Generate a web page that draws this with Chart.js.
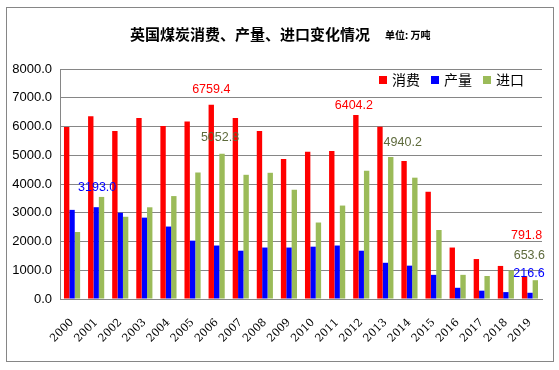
<!DOCTYPE html>
<html>
<head>
<meta charset="utf-8">
<script src="https://cdn.jsdelivr.net/npm/chart.js@4/dist/chart.umd.min.js"></script>
<style>
  html, body { margin: 0; padding: 0; background: #fff; }
  #wrap { width: 559px; height: 370px; position: relative; }
</style>
</head>
<body>
<div id="wrap"><canvas id="coalChart" width="559" height="370"></canvas></div>
<script>
const Years = ['2000','2001','2002','2003','2004','2005','2006','2007','2008','2009',
               '2010','2011','2012','2013','2014','2015','2016','2017','2018','2019'];
const Consumption = [5980, 6360, 5840, 6300, 6020, 6170, 6759.4, 6300, 5840, 4870,
                     5120, 5150, 6404.2, 5990, 4800, 3730, 1790, 1390, 1150, 791.8];
const Production = [3100, 3193.0, 3000, 2830, 2520, 2030, 1860, 1680, 1790, 1790,
                    1820, 1860, 1680, 1260, 1160, 840, 390, 290, 240, 216.6];
const Imports = [2330, 3550, 2860, 3190, 3580, 4400, 5052.8, 4320, 4390, 3800,
                 2660, 3250, 4460, 4940.2, 4220, 2400, 840, 800, 990, 653.6];
const SeriesNames = ['消费', '产量', '进口'];
const YTicks = [0, 1000, 2000, 3000, 4000, 5000, 6000, 7000, 8000];

// etiquetas de valor: dataset, indice de año
const Labels = [[0, 6], [2, 6], [1, 1], [0, 12], [2, 13], [0, 19], [2, 19], [1, 19]];
const LabelOffsets = [[0, -15], [-2, -16], [1, -20], [-2, -9], [12, -14], [2, -41], [-6, -25], [-1, -19]];
const LabelColors = ['#ff0000', '#0000ff', '#5e6a3c'];

const decorPlugin = {
  id: 'decor',
  beforeDraw(chart) {
    const ctx = chart.ctx;
    ctx.save();
    ctx.fillStyle = '#fff';
    ctx.fillRect(0, 0, chart.width, chart.height);
    ctx.strokeStyle = '#868686';
    ctx.lineWidth = 1;
    ctx.strokeRect(6.5, 7.5, 547, 354);
    ctx.restore();
  },
  afterDraw(chart) {
    const ctx = chart.ctx;
    ctx.save();
    // titulo
    ctx.fillStyle = '#000';
    ctx.textBaseline = 'middle';
    ctx.textAlign = 'center';
    ctx.font = 'bold 15px "Noto Sans CJK SC"';
    ctx.fillText('英国煤炭消费、产量、进口变化情况', 250, 34);
    ctx.textAlign = 'left';
    ctx.font = 'bold 10px "Noto Sans CJK SC"';
    ctx.fillText('单位: 万吨', 385, 35);

    // leyenda
    ctx.font = '14px "Noto Sans CJK SC"';
    const lx = [379, 431, 483];
    chart.data.datasets.forEach((ds, k) => {
      ctx.fillStyle = ds.backgroundColor;
      ctx.fillRect(lx[k], 76, 8, 8);
      ctx.fillStyle = '#000';
      ctx.fillText(ds.label, lx[k] + 13, 80);
    });

    // valores
    ctx.font = '12.5px "Liberation Sans", Arial, sans-serif';
    ctx.textAlign = 'center';
    Labels.forEach((l, n) => {
      const bar = chart.getDatasetMeta(l[0]).data[l[1]];
      const val = chart.data.datasets[l[0]].data[l[1]];
      ctx.fillStyle = LabelColors[l[0]];
      ctx.fillText(val.toFixed(1), bar.x + LabelOffsets[n][0], bar.y + LabelOffsets[n][1]);
    });
    ctx.restore();
  }
};

var ctx = document.getElementById('coalChart').getContext('2d');
var myChart = new Chart(ctx, {
  type: 'bar',
  data: {
    labels: Years,
    datasets: [
      { label: SeriesNames[0], data: Consumption, backgroundColor: '#ff0000' },
      { label: SeriesNames[1], data: Production, backgroundColor: '#0000ff' },
      { label: SeriesNames[2], data: Imports, backgroundColor: '#9bbb59' }
    ]
  },
  options: {
    responsive: false,
    animation: false,
    layout: { padding: { left: 0, top: 69, right: 17, bottom: 0 } },
    datasets: { bar: { categoryPercentage: 0.67, barPercentage: 1.0 } },
    plugins: {
      legend: { display: false },
      title: { display: false },
      tooltip: { enabled: false }
    },
    scales: {
      x: {
        grid: { display: false, drawTicks: false },
        border: { color: '#868686', width: 1 },
        ticks: {
          color: '#000',
          minRotation: 45,
          maxRotation: 45,
          padding: 17,
          font: { family: '"DejaVu Serif", serif', size: 11 }
        },
        afterFit: (scale) => { scale.height = 71; }
      },
      y: {
        min: 0,
        max: 8000,
        afterBuildTicks: (scale) => { scale.ticks = YTicks.map(v => ({ value: v })); },
        grid: { color: '#868686', drawTicks: false },
        border: { color: '#868686', width: 1 },
        ticks: {
          color: '#000',
          padding: 8,
          font: { family: '"Liberation Sans", Arial, sans-serif', size: 13 },
          callback: (v) => Number(v).toFixed(1)
        },
        afterFit: (scale) => { scale.width = 60; }
      }
    }
  },
  plugins: [decorPlugin]
});
</script>
</body>
</html>
